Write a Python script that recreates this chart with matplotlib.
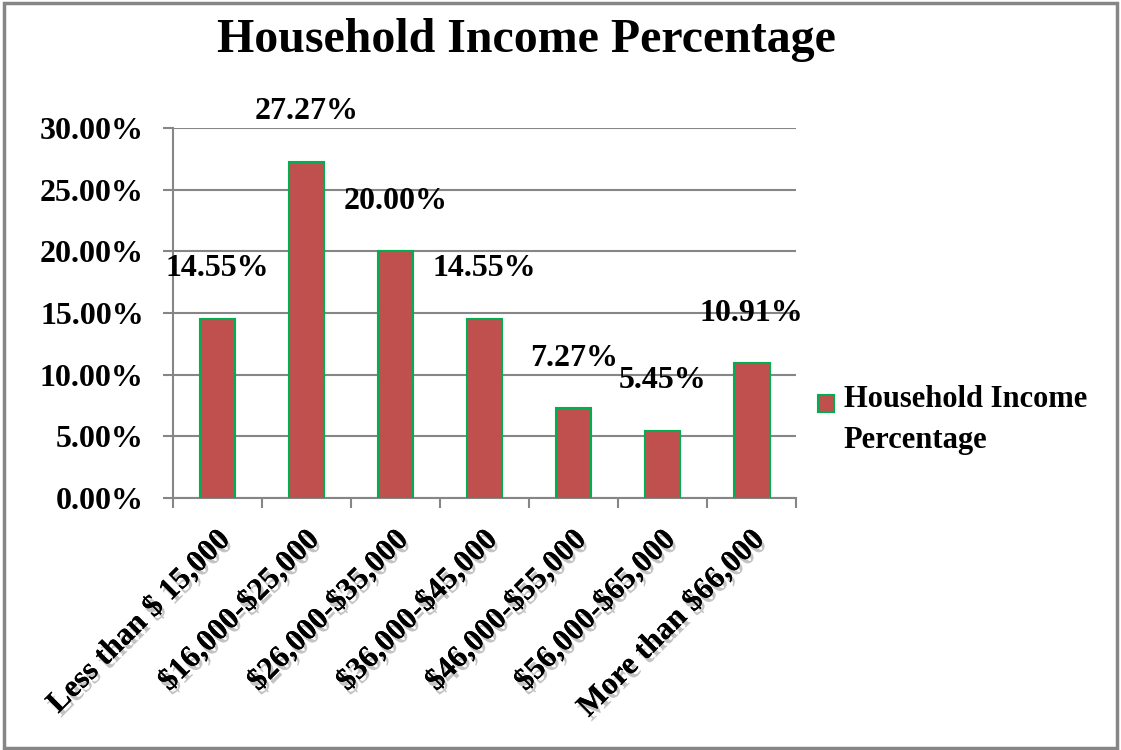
import matplotlib.pyplot as plt
import matplotlib.patheffects as pe
from matplotlib.patches import Rectangle
from matplotlib.legend_handler import HandlerPatch, update_from_first_child

# income brackets and their share of households
categories = ['Less than $ 15,000', '$16,000-$25,000', '$26,000-$35,000',
              '$36,000-$45,000', '$46,000-$55,000', '$56,000-$65,000',
              'More than $66,000']
percentages = [14.55, 27.27, 20.00, 14.55, 7.27, 5.45, 10.91]
y_ticks = [0, 5, 10, 15, 20, 25, 30]
series_name = 'Household Income Percentage'

bar_color = '#C0504D'
edge_color = '#00B050'
grid_color = '#868686'

plt.rcParams['font.family'] = ['Liberation Serif', 'DejaVu Serif']
plt.rcParams['font.weight'] = 'bold'
plt.rcParams['text.parse_math'] = False  # dollar signs are plain text

fig = plt.figure(figsize=(11.21, 7.5), dpi=100)
ax = fig.add_axes([0.1543, 0.336, 0.556, 0.4933])

x = list(range(len(categories)))
bars = ax.bar(x, percentages, width=0.40, color=bar_color,
              edgecolor=edge_color, linewidth=1.5, zorder=3,
              label='Household Income\nPercentage')

# value labels above each bar
for xi, v in zip(x, percentages):
    ax.annotate(f'{v:.2f}%', (xi, v), xytext=(0, 36),
                textcoords='offset points', ha='center', va='center',
                fontsize=23, fontweight='bold')

ax.set_xlim(-0.5, len(categories) - 0.5)
ax.set_ylim(0, 30)
ax.set_yticks(y_ticks)
ax.set_yticklabels([f'{t:.2f}%' for t in y_ticks], fontsize=23,
                   fontweight='bold')
ax.yaxis.grid(True, color=grid_color, linewidth=1.5, zorder=0)
ax.set_axisbelow(True)

# category ticks sit between the bars
ax.set_xticks([i - 0.5 for i in range(len(categories) + 1)])
ax.set_xticklabels([])
ax.tick_params(axis='x', length=7, width=1.5, color=grid_color)
ax.tick_params(axis='y', length=7, width=1.5, color=grid_color, pad=14)

shadow = [pe.withSimplePatchShadow(offset=(2, -3), shadow_rgbFace='#aaaaaa',
                                   alpha=0.7), pe.Normal()]
for xi, name in zip(x, categories):
    ax.text(xi + 0.1, -3.0, name, rotation=45, rotation_mode='anchor',
            ha='right', va='center', fontsize=22.5, fontweight='bold',
            path_effects=shadow, clip_on=False)

for side in ['top', 'right']:
    ax.spines[side].set_visible(False)
for side in ['left', 'bottom']:
    ax.spines[side].set_color(grid_color)
    ax.spines[side].set_linewidth(1.5)

fig.text(0.470, 1 - 40 / 750, series_name, ha='center', va='center',
         fontsize=34.5, fontweight='bold')


# legend key: small square next to the first line of the label
def top_square(legend, orig_handle, xdescent, ydescent, width, height,
               fontsize):
    size = width
    return Rectangle((-xdescent, -ydescent + height - size - 0.05 * fontsize),
                     size, size)


leg = ax.legend(loc='center left', bbox_to_anchor=(1.0, 0.21), frameon=False,
                fontsize=22, handlelength=0.55, handleheight=2.5,
                handletextpad=0.3, labelspacing=0.2, borderaxespad=0.3,
                handler_map={type(bars): HandlerPatch(
                    patch_func=top_square,
                    update_func=update_from_first_child)})
for t in leg.get_texts():
    t.set_fontweight('bold')
    t.set_linespacing(1.55)

# outer chart frame
fig.patches.append(Rectangle((0.004, 0.003), 0.992, 0.993,
                             transform=fig.transFigure, fill=False,
                             edgecolor=grid_color, linewidth=2.5))

fig.savefig('out.png', dpi=100)
